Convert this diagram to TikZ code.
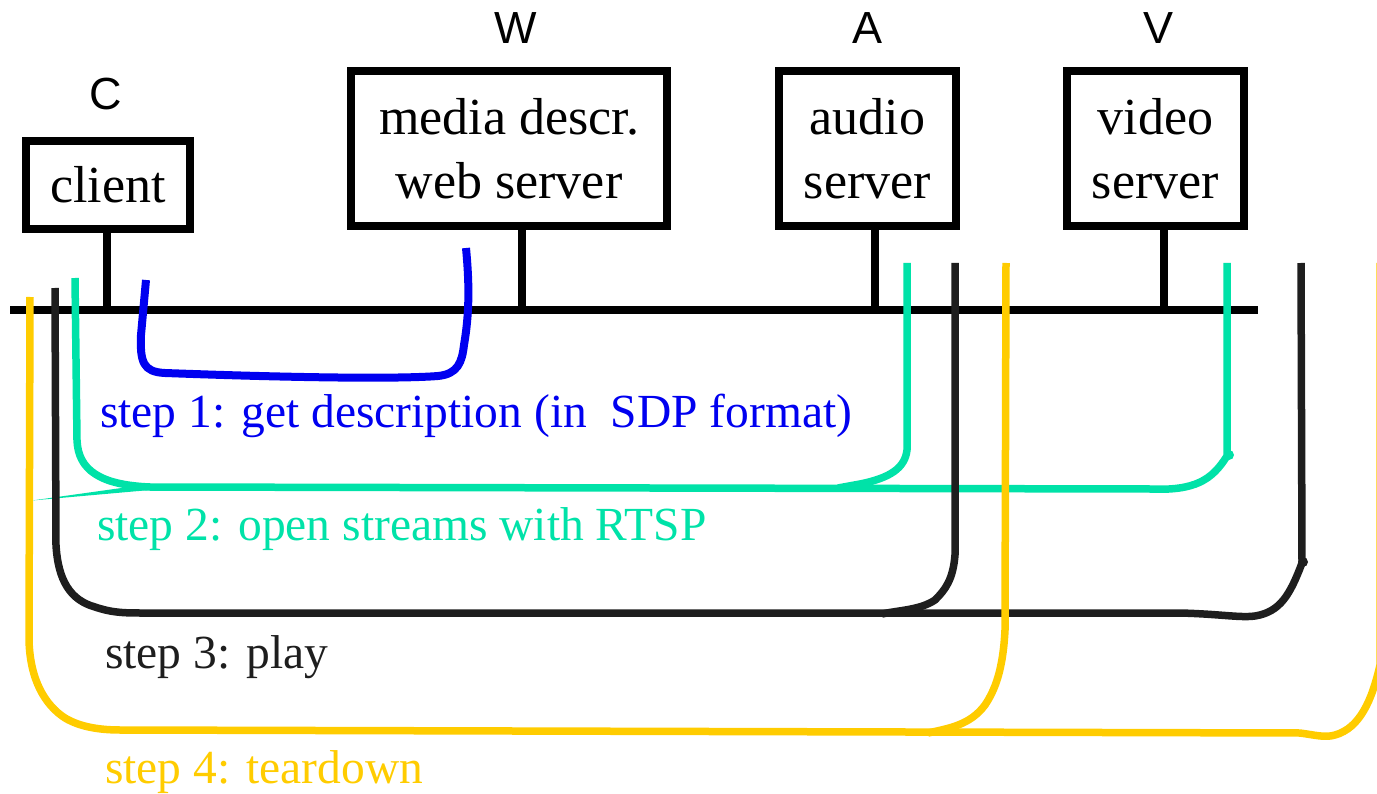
\documentclass[tikz,border=0pt]{standalone}
\usepackage{fontspec}
\setmainfont{Liberation Serif}
\newfontfamily\labelfont{Liberation Sans}
\definecolor{cblue}{HTML}{0000F0}
\definecolor{cgreen}{HTML}{00E2A8}
\definecolor{cdark}{HTML}{1E1E1E}
\definecolor{cyellow}{HTML}{FFCC00}
\begin{document}
\begin{tikzpicture}[x=1pt,y=-1pt,
  box/.style={draw=black, line width=8.5pt, inner sep=0pt, align=center,
    minimum height=155pt, font=\fontsize{52}{64}\selectfont},
  tag/.style={font=\labelfont\fontsize{45}{54}\selectfont, anchor=base, inner sep=0pt},
  steplabel/.style={font=\fontsize{47.5}{58}\selectfont, anchor=base west, inner sep=0pt},
  wire/.style={line width=8pt, draw=black},
  route/.style={line width=7.5pt, line join=round}]
\useasboundingbox (0,0) rectangle (1377,794);
\clip (0,0) rectangle (1377,794);

% boxes
\node[box, minimum width=164pt, minimum height=88pt] (client) at (108,185) {client};
\node[box, minimum width=316pt] (web) at (509,148.5) {media descr.\\web server};
\node[box, minimum width=177pt] (audio) at (867.5,148.5) {audio\\server};
\node[box, minimum width=177pt] (video) at (1155.5,148.5) {video\\server};

% letters
\node[tag] (lc) at (106,110) {C};
\node[tag] (lw) at (516,44) {W};
\node[tag] (la) at (867,44) {A};
\node[tag] (lv) at (1158,44) {V};

% bus
\coordinate (busL) at (10,310);
\coordinate (busR) at (1258,310);
\coordinate (tapC) at (107,310);
\coordinate (tapW) at (522,310);
\coordinate (tapA) at (875,310);
\coordinate (tapV) at (1164,310);
\draw[wire] (busL) -- (busR);
\draw[wire] (client.south -| tapC) -- (tapC);
\draw[wire] (web.south -| tapW) -- (tapW);
\draw[wire] (audio.south -| tapA) -- (tapA);
\draw[wire] (video.south -| tapV) -- (tapV);

% step 1 (blue)
\draw[route, cblue, line width=8pt] (146,280) -- (141,335)
  .. controls (140,362) and (143,372) .. (165,373)
  .. controls (300,378) and (400,379) .. (438,376)
  .. controls (458,374) and (462,362) .. (464,345)
  .. controls (470,310) and (469,280) .. (466,248);

% step 2 (green)
\fill[cgreen] (32,500.5) -- (150,484) -- (150,490) -- cycle;
\draw[route, cgreen] (75,278) -- (77,440)
  .. controls (78,470) and (100,485) .. (150,487)
  -- (1150,489) .. controls (1195,491) and (1212,480) .. (1227,456)
  -- (1227,263);
\draw[route, cgreen] (907,263) -- (907,450)
  .. controls (905,468) and (890,478) .. (860,484) -- (838,488);
\fill[cgreen] (1229,455) circle (5);

% step 3 (dark)
\draw[route, cdark] (55,288) -- (56,545)
  .. controls (58,580) and (70,600) .. (95,607)
  .. controls (110,612) and (120,613) .. (140,613)
  -- (1180,613) .. controls (1220,614) and (1240,618) .. (1255,616)
  .. controls (1280,612) and (1290,595) .. (1302,563) -- (1301,263);
\draw[route, cdark] (955,263) -- (955,555)
  .. controls (953,580) and (945,590) .. (935,600)
  .. controls (920,610) and (900,610) .. (882,614);
\fill[cdark] (1303,562) circle (5);

% step 4 (yellow)
\draw[route, cyellow] (30,297) -- (29,640)
  .. controls (30,680) and (45,705) .. (65,718)
  .. controls (80,727) and (100,730) .. (120,730)
  -- (1300,733) .. controls (1315,735) and (1325,738) .. (1335,735)
  .. controls (1360,728) and (1372,700) .. (1380,665) -- (1380,263);
\draw[route, cyellow] (1006,263) -- (1005,630)
  .. controls (1003,670) and (995,690) .. (985,705)
  .. controls (970,725) and (950,728) .. (928,733);

% step labels
\node[steplabel, text=cblue] (s1) at (100,428) {step 1: get description (in\ \ SDP format)};
\node[steplabel, text=cgreen] (s2) at (97,540) {step 2: open streams with RTSP};
\node[steplabel, text=cdark] (s3) at (105,668) {step 3: play};
\node[steplabel, text=cyellow] (s4) at (105,783) {step 4: teardown};
\end{tikzpicture}
\end{document}
